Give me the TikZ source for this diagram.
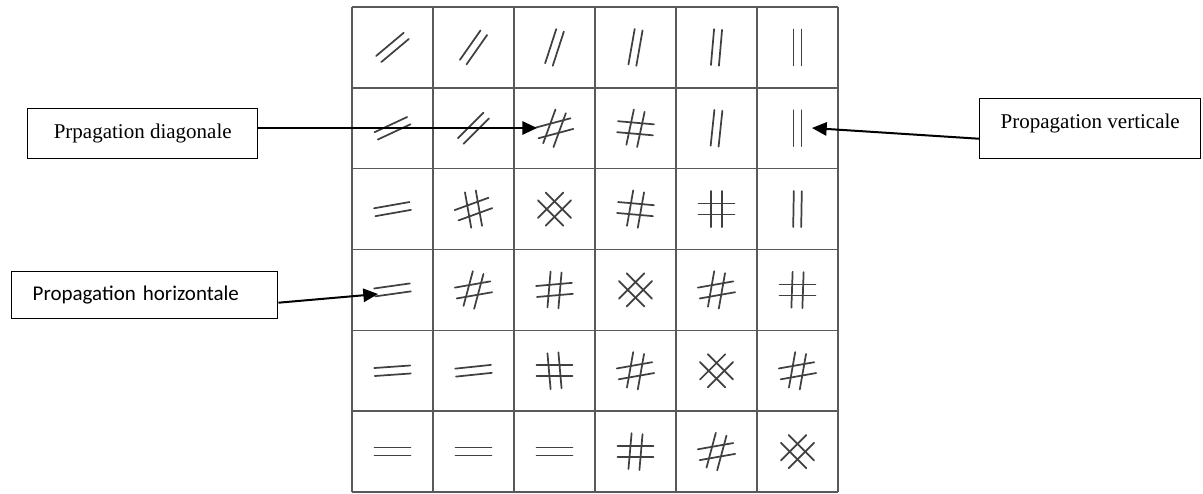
\documentclass[tikz,border=0pt]{standalone}
\usepackage{fontspec}
\setmainfont{Liberation Serif}
\newfontfamily\calibrifont{Carlito}
\usetikzlibrary{arrows.meta}

\tikzset{
  gridline/.style={draw=black!65, line width=1.2pt},
  stroke/.style={draw=black!75, line width=1.3pt, line cap=round},
  labelbox/.style={draw=black, line width=1.1pt, inner sep=0pt, font=\fontsize{15.75}{19}\selectfont},
  pointer/.style={draw=black, line width=1.5pt, -{Triangle[length=11pt,width=10pt]}},
}

\begin{document}
\begin{tikzpicture}[x=0.75pt,y=-0.75pt]
    \useasboundingbox (0,0) rectangle (1203,493);

    % grid 6x6
    \foreach \i in {0,...,6} {
        \draw[gridline] ({352+81*\i},7) -- ({352+81*\i},492);
        \draw[gridline] (352,{7+80.83*\i}) -- (838,{7+80.83*\i});
    }

    % single pairs of strokes
    \foreach \r/\c/\a in {1/1/40, 1/2/55, 1/3/72, 1/4/80, 1/5/85, 1/6/90,
                          2/1/25, 2/2/45, 2/5/84, 2/6/90,
                          3/1/10, 3/6/89, 4/1/8, 5/1/4, 5/2/6,
                          6/1/0, 6/2/0, 6/3/0}
        \draw[stroke, shift={({311.5+81*\c},{-33.4+80.83*\r})}, rotate=\a]
            (-18,-4) -- (18,-4) (-18,4) -- (18,4);

    % crossed pairs
    \foreach \r/\c/\a/\b in {2/3/15/70, 2/4/-5/78,
                             3/2/20/100, 3/3/45/135, 3/4/-5/80, 3/5/0/90,
                             4/2/10/75, 4/3/5/85, 4/4/45/135, 4/5/10/80, 4/6/0/88,
                             5/3/0/95, 5/4/10/80, 5/5/45/135, 5/6/10/80,
                             6/4/0/85, 6/5/10/75, 6/6/45/135} {
        \draw[stroke, shift={({311.5+81*\c},{-33.4+80.83*\r})}, rotate=\a]
            (-18,-5.5) -- (18,-5.5) (-18,5.5) -- (18,5.5);
        \draw[stroke, shift={({311.5+81*\c},{-33.4+80.83*\r})}, rotate=\b]
            (-18,-5.5) -- (18,-5.5) (-18,5.5) -- (18,5.5);
    }

    % labels
    \node[labelbox, anchor=north west, minimum width=172.5pt, minimum height=37.5pt] (diagbox) at (27,108) {Prpagation diagonale};
    \node[labelbox, anchor=north west, minimum width=165.75pt, minimum height=45pt, text height=6pt, text depth=6pt] (vertbox) at (979,98) {Propagation verticale};
    \node[labelbox, anchor=north west, minimum width=199.5pt, minimum height=35.25pt, inner xsep=15.75pt, text width=168pt, align=left, font=\calibrifont\fontsize{15.75}{19}\selectfont] (horizbox) at (11,271) {Propagation horizontale};

    % arrows
    \coordinate (diagtip) at (537,128);
    \coordinate (verttip) at (812,128);
    \coordinate (horiztip) at (378,294);
    \draw[pointer] (diagbox.east |- diagtip) -- (diagtip);
    \draw[pointer] ([yshift=-7.5pt]vertbox.west) -- (verttip);
    \draw[pointer] ([yshift=-5.6pt]horizbox.east) -- (horiztip);
\end{tikzpicture}
\end{document}
